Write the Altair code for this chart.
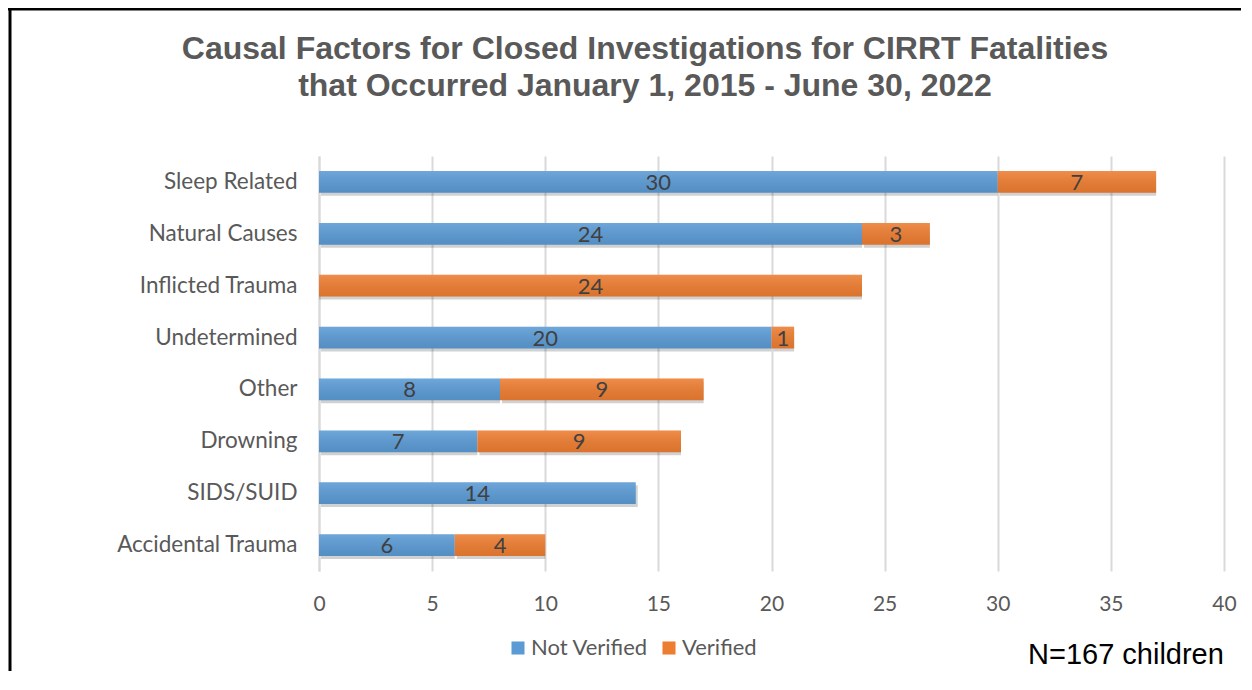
import altair as alt
import pandas as pd

categories = ["Sleep Related", "Natural Causes", "Inflicted Trauma", "Undetermined",
              "Other", "Drowning", "SIDS/SUID", "Accidental Trauma"]
not_verified = [30, 24, 0, 20, 8, 7, 14, 6]
verified = [7, 3, 24, 1, 9, 9, 0, 4]
series = ["Not Verified", "Verified"]
colors = ["#5B9BD5", "#ED7D31"]
x_ticks = [0, 5, 10, 15, 20, 25, 30, 35, 40]
title_lines = ["Causal Factors for Closed Investigations for CIRRT Fatalities",
               "that Occurred January 1, 2015 - June 30, 2022"]
note_text = "N=167 children"

rows = []
for c, nv, v in zip(categories, not_verified, verified):
    rows.append({"cat": c, "series": "Not Verified", "order": 0, "value": nv})
    rows.append({"cat": c, "series": "Verified", "order": 1, "value": v})
df = pd.DataFrame(rows)

PW, PH = 905, 415
FONT = "Lato"

base = alt.Chart(df).transform_stack(
    stack="value", groupby=["cat"], as_=["x0", "x1"],
    sort=[alt.SortField("order", order="ascending")]
).transform_calculate(mid="(datum.x0 + datum.x1) / 2")

yenc = alt.Y("cat:N", sort=categories, title=None,
             scale=alt.Scale(paddingInner=0.58, paddingOuter=0.29),
             axis=alt.Axis(labelFont=FONT, labelFontSize=22.5, labelColor="#595959",
                           ticks=False, domain=True, domainColor="#d9d9d9", domainWidth=2,
                           labelPadding=22, labelLimit=400, grid=False))
xenc = alt.X("x0:Q", title=None,
             scale=alt.Scale(domain=[0, 40], nice=False),
             axis=alt.Axis(values=x_ticks, labelFont=FONT, labelFontSize=21,
                           labelColor="#595959", ticks=False, domain=False,
                           grid=True, gridColor="#d9d9d9", gridWidth=2,
                           labelPadding=22, labelFlush=False))

shadow = base.mark_bar(color="#000000", opacity=0.18, xOffset=2, yOffset=3).encode(
    y=yenc, x=xenc, x2="x1:Q")

bars = base.mark_bar().encode(
    y=yenc, x=xenc, x2="x1:Q",
    color=alt.Color("series:N", scale=alt.Scale(domain=series, range=colors),
                    legend=alt.Legend(title=None, orient="none", direction="horizontal",
                                      legendX=188, legendY=481,
                                      labelFont=FONT, labelFontSize=22, labelColor="#595959",
                                      symbolType="square", symbolSize=170,
                                      symbolStrokeWidth=0, columnPadding=10,
                                      labelOffset=2)))

gloss = base.mark_bar(fill=alt.Gradient(
    gradient="linear", x1=0, x2=0, y1=0, y2=1,
    stops=[alt.GradientStop(color="rgba(255,255,255,0.12)", offset=0),
           alt.GradientStop(color="rgba(0,0,0,0.08)", offset=1)])).encode(
    y=yenc, x=xenc, x2="x1:Q")

labels = base.transform_filter("datum.value > 0").mark_text(
    font=FONT, fontSize=22, color="#404040", baseline="middle", dy=1).encode(
    y=alt.Y("cat:N", sort=categories), x=alt.X("mid:Q"), text="value:Q")

note = alt.Chart(pd.DataFrame({"t": [note_text]})).mark_text(
    font="Liberation Sans", fontSize=29, color="#000000", align="left",
    baseline="middle").encode(x=alt.value(709), y=alt.value(499), text="t:N")

title = alt.Chart(pd.DataFrame({"t": ["\n".join(title_lines)]})).mark_text(
    font="Liberation Sans", fontSize=32, fontWeight="bold", color="#595959",
    align="center", baseline="top", lineBreak="\n", lineHeight=37).encode(
    x=alt.value(326), y=alt.value(-122), text="t:N")

left_line = alt.Chart(pd.DataFrame({"a": [0]})).mark_rule(color="#000000", strokeWidth=3).encode(
    x=alt.value(-309), y=alt.value(-148), y2=alt.value(530))
top_line = alt.Chart(pd.DataFrame({"a": [0]})).mark_rule(color="#000000", strokeWidth=3).encode(
    x=alt.value(-311), x2=alt.value(930), y=alt.value(-147))

chart = alt.layer(shadow, bars, gloss, labels, note, title, left_line, top_line).properties(
    width=PW, height=PH,
    autosize=alt.AutoSizeParams(type="none"),
    padding={"left": 311, "top": 148, "right": 17, "bottom": 100},
).configure_view(stroke=None)

chart.save("out.html", embed_options={"renderer": "svg", "actions": False})
